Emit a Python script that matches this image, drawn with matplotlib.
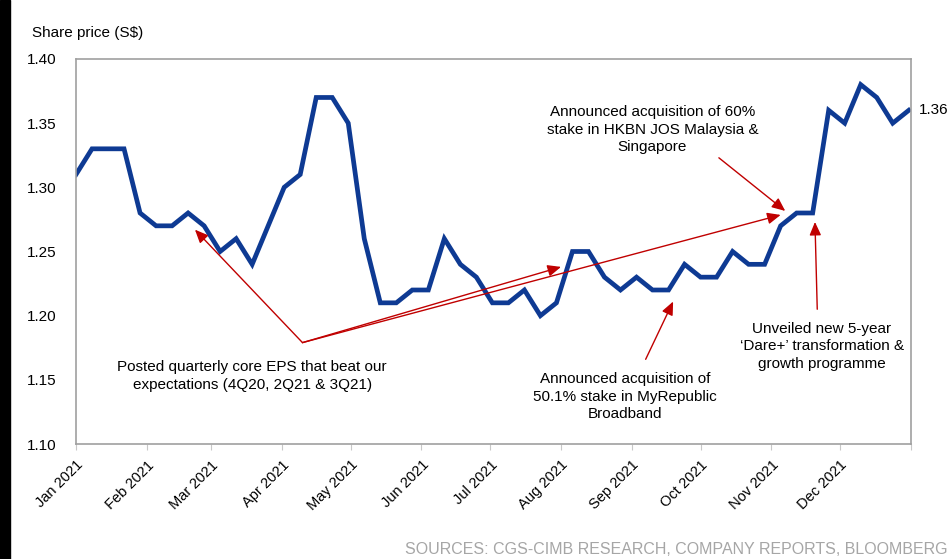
import datetime as dt
import matplotlib
matplotlib.use("Agg")
import matplotlib.pyplot as plt
import matplotlib.dates as mdates
from matplotlib.patches import Rectangle

plt.rcParams["font.family"] = ["Liberation Sans", "DejaVu Sans"]

# weekly closing prices, Jan 1 2021 .. Dec 31 2021
start = dt.date(2021, 1, 1)
prices = [1.31, 1.33, 1.33, 1.33, 1.28, 1.27, 1.27, 1.28, 1.27, 1.25,
          1.26, 1.24, 1.27, 1.30, 1.31, 1.37, 1.37, 1.35, 1.26, 1.21,
          1.21, 1.22, 1.22, 1.26, 1.24, 1.23, 1.21, 1.21, 1.22, 1.20,
          1.21, 1.25, 1.25, 1.23, 1.22, 1.23, 1.22, 1.22, 1.24, 1.23,
          1.23, 1.25, 1.24, 1.24, 1.27, 1.28, 1.28, 1.36, 1.35, 1.38,
          1.37, 1.35, 1.36]
dates = [start + dt.timedelta(days=7 * i) for i in range(len(prices))]
month_ticks = [dt.date(2021, m, 1) for m in range(1, 13)]
yticks = [1.10, 1.15, 1.20, 1.25, 1.30, 1.35, 1.40]

RED = "#C00000"
BLUE = "#0E3A93"
FS = 11
LS = 1.3


def d(s):
    return mdates.date2num(dt.date.fromisoformat(s))


fig = plt.figure(figsize=(9.5, 5.59), dpi=100)
ax = fig.add_axes([0.08, 0.2057, 0.879, 0.6888])

ax.plot(dates, prices, color=BLUE, linewidth=3.4, solid_joinstyle="miter")

ax.set_xlim(dt.date(2021, 1, 1), dt.date(2022, 1, 1))
ax.set_ylim(1.10, 1.40)
ax.set_yticks(yticks)
ax.set_yticklabels([f"{v:.2f}" for v in yticks])
ax.set_xticks(month_ticks + [dt.date(2022, 1, 1)])
ax.set_xticklabels([t.strftime("%b %Y") for t in month_ticks] + [""])
for lab in ax.get_xticklabels():
    lab.set_rotation(45)
    lab.set_ha("right")
    lab.set_rotation_mode("anchor")

ax.tick_params(axis="x", length=4, color="#C8C8C8", labelsize=10.5, pad=6)
ax.tick_params(axis="y", length=0, labelsize=FS, pad=14)
for s in ax.spines.values():
    s.set_color("#A0A0A0")
    s.set_linewidth(1.2)

# end value label
ax.annotate(f"{prices[-1]:.2f}", xy=(dates[-1], prices[-1]), xytext=(7, 0),
            textcoords="offset points", va="center", ha="left", fontsize=FS,
            annotation_clip=False)

arrow = dict(arrowstyle="-|>,head_length=0.8,head_width=0.35", color=RED,
             lw=1.0, shrinkA=0, shrinkB=0)

# earnings beats: three arrows from one point
for target in [(d("2021-02-22"), 1.267), (d("2021-08-01"), 1.238),
               (d("2021-11-05"), 1.2785)]:
    ax.annotate("", xy=target, xytext=(d("2021-04-10"), 1.179),
                arrowprops=arrow)
ax.text(d("2021-03-19"), 1.153,
        "Posted quarterly core EPS that beat our\nexpectations (4Q20, 2Q21 & 3Q21)",
        ha="center", va="center", fontsize=FS, linespacing=LS)

ax.annotate("", xy=(d("2021-11-07"), 1.2816), xytext=(d("2021-10-09"), 1.323),
            arrowprops=arrow)
ax.text(d("2021-09-10"), 1.345,
        "Announced acquisition of 60%\nstake in HKBN JOS Malaysia &\nSingapore",
        ha="center", va="center", fontsize=FS, linespacing=LS)

ax.annotate("", xy=(d("2021-09-19"), 1.211), xytext=(d("2021-09-07"), 1.166),
            arrowprops=arrow)
ax.text(d("2021-08-29"), 1.137,
        "Announced acquisition of\n50.1% stake in MyRepublic\nBroadband",
        ha="center", va="center", fontsize=FS, linespacing=LS)

ax.annotate("", xy=(d("2021-11-20"), 1.273), xytext=(d("2021-11-21"), 1.205),
            arrowprops=arrow)
ax.text(d("2021-11-23"), 1.176,
        "Unveiled new 5-year\n\u2018Dare+\u2019 transformation &\ngrowth programme",
        ha="center", va="center", fontsize=FS, linespacing=LS)

fig.text(32 / 950, 1 - 33 / 559, "Share price (S$)", fontsize=FS, va="center")
fig.text(948 / 950, 1 - 549 / 559,
         "SOURCES: CGS-CIMB RESEARCH, COMPANY REPORTS, BLOOMBERG",
         fontsize=11.5, color="#A6A6A6", ha="right", va="center")

# dark bar down the left edge
fig.patches.append(Rectangle((0, 0), 10 / 950, 1, transform=fig.transFigure,
                             color="black", zorder=0))

fig.savefig("out.png", dpi=100)
